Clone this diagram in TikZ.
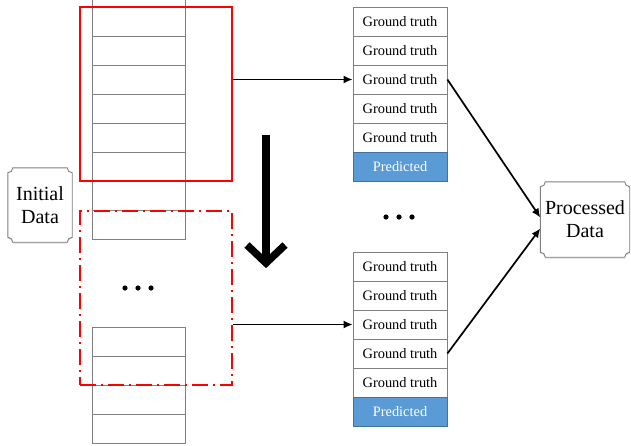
\documentclass[tikz,border=0pt]{standalone}
\usepackage{fontspec}
\setmainfont{Liberation Serif}
\usetikzlibrary{arrows.meta,calc}
\definecolor{predblue}{HTML}{5B9BD5}
\definecolor{predborder}{HTML}{41719C}
\definecolor{cellgray}{HTML}{808080}
\tikzset{
  cell/.style={draw=cellgray, line width=0.8pt, fill=white, minimum width=94pt, minimum height=29pt, inner sep=0pt, font=\fontsize{14.4}{16}\selectfont},
  predcell/.style={cell, fill=predblue, draw=predborder, text=white},
  colcell/.style={draw=cellgray, line width=0.8pt, minimum width=93pt, minimum height=29pt, inner sep=0pt},
  window/.style={draw=red, line width=2pt, minimum width=152pt, minimum height=174pt, inner sep=0pt},
  dashwindow/.style={window, dash pattern=on 16pt off 5pt on 2pt off 5pt},
  conn/.style={draw=black, line width=1.7pt, -{Latex[length=9pt,width=8pt]}},
  plaquetext/.style={inner sep=0pt, align=center, font=\fontsize{20}{23}\selectfont},
  plaqueline/.style={draw=gray, line width=0.9pt},
  bigarrow/.style={line width=8pt, draw=black},
  dot/.style={fill=black}
}
\newcommand{\plaquepath}[1]{%
 \fill[gray!25] ([xshift=5pt,yshift=-1.5pt]#1.north west) -- ([xshift=-5pt,yshift=-1.5pt]#1.north east) arc[start angle=180,end angle=270,radius=5pt] -- ([yshift=3.5pt]#1.south east) arc[start angle=90,end angle=180,radius=5pt] -- ([xshift=5pt,yshift=-1.5pt]#1.south west) arc[start angle=0,end angle=90,radius=5pt] -- ([yshift=-6.5pt]#1.north west) arc[start angle=270,end angle=360,radius=5pt] -- cycle;
 \draw[plaqueline, fill=white] ([xshift=5pt]#1.north west) -- ([xshift=-5pt]#1.north east) arc[start angle=180,end angle=270,radius=5pt] -- ([yshift=5pt]#1.south east) arc[start angle=90,end angle=180,radius=5pt] -- ([xshift=5pt]#1.south west) arc[start angle=0,end angle=90,radius=5pt] -- ([yshift=-5pt]#1.north west) arc[start angle=270,end angle=360,radius=5pt] -- cycle;}
\begin{document}
\begin{tikzpicture}[x=1pt,y=-1pt]
\useasboundingbox (0,0) rectangle (631,445);
% left data column (top part)
\foreach \k in {0,...,8} {
  \node[colcell] (L\k) at (138.5,{-7.5+29*\k}) {};
}
% left data column (bottom part)
\foreach \k in {1,...,4} {
  \node[colcell] (B\k) at (138.5,{341.5+29*(\k-1)}) {};
}
% windows
\node[window] (win1) at (156,94) {};
\node[dashwindow] (win2) at (156,298) {};
% left dots
\fill[dot] (125,288) circle (2.6pt);
\fill[dot] (138,288) circle (2.6pt);
\fill[dot] (151,288) circle (2.6pt);
% right stacks
\foreach \k in {1,...,5} {
  \node[cell] (G1\k) at (400,{21.5+29*(\k-1)}) {Ground truth};
  \node[cell] (G2\k) at (400,{266.5+29*(\k-1)}) {Ground truth};
}
\node[predcell] (G16) at (400,166.5) {Predicted};
\node[predcell] (G26) at (400,411.5) {Predicted};
% right dots
\fill[dot] (386,217) circle (2.6pt);
\fill[dot] (399,217) circle (2.6pt);
\fill[dot] (412,217) circle (2.6pt);
% plaques
\node[plaquetext, minimum width=64pt, minimum height=74pt] (ID) at (40,205) {};
\plaquepath{ID}
\node[plaquetext] at (ID) {Initial\\Data};
\node[plaquetext, minimum width=89pt, minimum height=75pt] (PD) at (585,219.5) {};
\plaquepath{PD}
\node[plaquetext] at (PD) {Processed\\Data};
% big arrow
\draw[bigarrow] (266,135) -- (266,262);
\draw[bigarrow, line width=7.5pt, line join=miter] (247,245) -- (266,263) -- (285,245);
% connectors
\draw[conn] (win1.east |- G13.west) -- (G13.west);
\draw[conn] (win2.east |- G23.west) -- (G23.west);
\draw[conn] (G13.east) -- ([yshift=2pt]PD.west);
\draw[conn] (G24.east) -- ([yshift=-9pt]PD.west);
\end{tikzpicture}
\end{document}
